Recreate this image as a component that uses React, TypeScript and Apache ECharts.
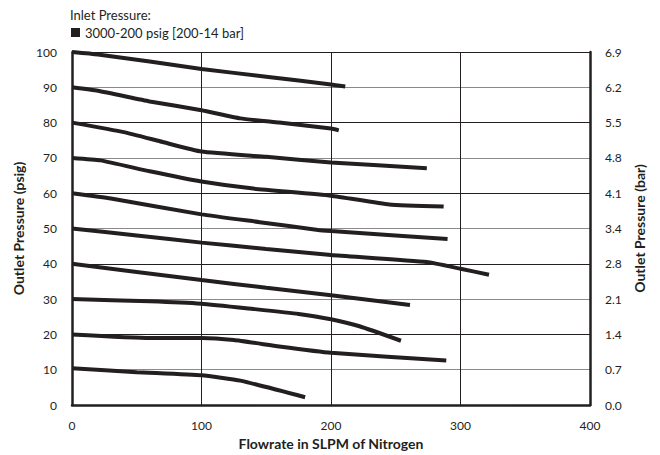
import React, { useEffect, useRef } from "react";
import * as echarts from "echarts";

const xTicks = [0, 100, 200, 300, 400];
const barLabels = ["0.0", "0.7", "1.4", "2.1", "2.8", "3.4", "4.1", "4.8", "5.5", "6.2", "6.9"];
const seriesName = "3000-200 psig [200-14 bar]";

const curve100 = [[0, 100], [20, 99.3], [60, 97.3], [100, 95.2], [150, 93], [200, 90.8], [211, 90.2]];
const curve90 = [[0, 90], [20, 89], [60, 86], [100, 83.5], [130, 81.2], [160, 80], [200, 78.3], [206, 77.8]];
const curve80 = [[0, 80], [40, 77.3], [70, 74.5], [100, 71.8], [150, 70.3], [200, 68.7], [274, 67.1]];
const curve70 = [[0, 70], [22, 69.3], [60, 66.2], [100, 63.3], [140, 61.3], [200, 59.3], [245, 56.8], [287, 56.2]];
const curve60 = [[0, 60], [30, 58.5], [100, 54], [145, 51.8], [190, 49.6], [200, 49.3], [290, 47]];
const curve50 = [[0, 50], [50, 48], [100, 46], [150, 44.2], [200, 42.5], [274, 40.5], [300, 38.6], [322, 36.9]];
const curve40 = [[0, 40], [50, 37.7], [100, 35.4], [150, 33.2], [200, 31.1], [261, 28.3]];
const curve30 = [[0, 30], [60, 29.4], [100, 28.7], [140, 27.2], [175, 25.8], [200, 24.3], [222, 22.3], [254, 18.2]];
const curve20 = [[0, 20], [60, 19], [100, 19], [125, 18.4], [160, 16.6], [200, 14.8], [289, 12.6]];
const curve10 = [[0, 10.4], [50, 9.3], [100, 8.4], [130, 6.9], [180, 2.2]];

const curves = [curve100, curve90, curve80, curve70, curve60, curve50, curve40, curve30, curve20, curve10];

const FONT = "Lato, 'Open Sans', sans-serif";
const INK = "#231f20";

export default function App() {
  const ref = useRef<HTMLDivElement>(null);
  useEffect(() => {
    if (!ref.current) return;
    const chart = echarts.init(ref.current, undefined, { renderer: "svg" });
    chart.setOption({
      animation: false,
      textStyle: { fontFamily: FONT, color: INK },
      title: {
        text: "Inlet Pressure:",
        left: 65,
        top: 3,
        textStyle: { fontFamily: FONT, fontSize: 13, fontWeight: "normal", color: INK },
      },
      legend: {
        left: 66,
        top: 21,
        icon: "rect",
        itemWidth: 9,
        itemHeight: 9,
        itemGap: 5,
        textStyle: { fontFamily: FONT, fontSize: 13, color: INK, padding: [0, 0, 0, 0] },
        data: [{ name: seriesName, itemStyle: { color: INK } }],
        selectedMode: false,
      },
      grid: { left: 72, top: 52, right: 70, bottom: 49 },
      xAxis: {
        type: "value",
        min: 0,
        max: 400,
        interval: 100,
        name: "Flowrate in SLPM of Nitrogen",
        nameLocation: "middle",
        nameGap: 31,
        nameTextStyle: { fontFamily: FONT, fontSize: 14, fontWeight: "bold", color: INK },
        axisLine: { show: true, lineStyle: { color: INK, width: 2.5 } },
        axisTick: { show: false },
        axisLabel: { margin: 14, fontSize: 12, color: INK, fontFamily: FONT, formatter: (v: number) => (xTicks.includes(v) ? String(v) : "") },
        splitLine: { show: true, lineStyle: { color: INK, width: 1 } },
      },
      yAxis: [
        {
          type: "value",
          min: 0,
          max: 100,
          interval: 10,
          name: "Outlet Pressure (psig)",
          nameLocation: "middle",
          nameGap: 46,
          nameTextStyle: { fontFamily: FONT, fontSize: 14, fontWeight: "bold", color: INK },
          axisLine: { show: true, lineStyle: { color: INK, width: 2.5 } },
          axisTick: { show: false },
          axisLabel: { margin: 15, fontSize: 12, color: INK, fontFamily: FONT },
          splitLine: { show: true, lineStyle: { color: [INK, "#8a8a8a"], width: 1 } },
        },
        {
          type: "value",
          min: 0,
          max: 100,
          interval: 10,
          position: "right",
          name: "Outlet Pressure (bar)",
          nameLocation: "middle",
          nameGap: 42,
          nameRotate: 90,
          nameTextStyle: { fontFamily: FONT, fontSize: 14, fontWeight: "bold", color: INK },
          axisLine: { show: true, lineStyle: { color: INK, width: 2.5 } },
          axisTick: { show: false },
          axisLabel: {
            margin: 15,
            fontSize: 12,
            color: INK,
            fontFamily: FONT,
            formatter: (v: number) => barLabels[Math.round(v / 10)] ?? "",
          },
          splitLine: { show: false },
        },
      ],
      series: curves.map((c) => ({
        name: seriesName,
        type: "line",
        data: c,
        symbol: "none",
        smooth: 0.15,
        itemStyle: { color: INK },
        lineStyle: { color: INK, width: 4 },
        silent: true,
      })),
    });
    return () => chart.dispose();
  }, []);
  return <div ref={ref} style={{ position: "absolute", left: 0, top: 0, width: 660, height: 455 }} />;
}
